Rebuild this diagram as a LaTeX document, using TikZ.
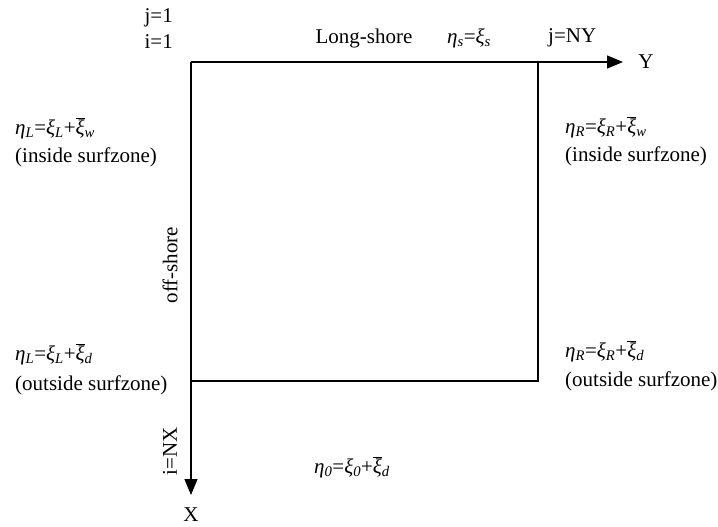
\documentclass[tikz,border=0pt]{standalone}
\usepackage{fontspec}
\setmainfont{Liberation Serif}
\usetikzlibrary{arrows.meta}
\newcommand{\iv}[1]{{\itshape #1}}
\newcommand{\sbv}[1]{\textsubscript{\itshape #1}}
\newcommand{\xibar}{$\overline{\hbox{\itshape ξ}}$}
\begin{document}
\begin{tikzpicture}[x=1pt,y=-1pt,
  lbl/.style={inner sep=0pt,font=\fontsize{21}{25}\selectfont},
  ln/.style={line width=1.2pt},
  axis/.style={line width=1.2pt,-{Triangle[length=16pt,width=13pt]}}]
\useasboundingbox (0,0) rectangle (718,527);
\coordinate (O) at (191,62);
\coordinate (TR) at (538,62);
\coordinate (BR) at (538,381);
\coordinate (BL) at (191,381);
\coordinate (Yend) at (623,62);
\coordinate (Xend) at (191,495);
\draw[ln] (O) -- (TR) -- (BR) -- (BL);
\draw[axis] (O) -- (Yend);
\draw[axis] (O) -- (Xend);
\node[lbl,anchor=east] (j1) at (173,18) {j=1};
\node[lbl,anchor=east] (i1) at (173,42) {i=1};
\node[lbl] (ls) at (364,38) {Long-shore};
\node[lbl] (es) at (469,38) {\iv{η}\sbv{s}=\iv{ξ}\sbv{s}};
\node[lbl,anchor=west] (jny) at (548,38) {j=NY};
\node[lbl] (Y) at (646,62) {Y};
\node[lbl] (X) at (191,515) {X};
\node[lbl,anchor=west] (eLw) at (15,128) {\iv{η}\sbv{L}=\iv{ξ}\sbv{L}+\xibar\sbv{w}};
\node[lbl,anchor=west] (tLw) at (15,157) {(inside surfzone)};
\node[lbl,anchor=west] (eRw) at (565,127) {\iv{η}\sbv{R}=\iv{ξ}\sbv{R}+\xibar\sbv{w}};
\node[lbl,anchor=west] (tRw) at (565,156) {(inside surfzone)};
\node[lbl,anchor=west] (eLd) at (15,354) {\iv{η}\sbv{L}=\iv{ξ}\sbv{L}+\xibar\sbv{d}};
\node[lbl,anchor=west] (tLd) at (15,385) {(outside surfzone)};
\node[lbl,anchor=west] (eRd) at (565,351) {\iv{η}\sbv{R}=\iv{ξ}\sbv{R}+\xibar\sbv{d}};
\node[lbl,anchor=west] (tRd) at (565,381) {(outside surfzone)};
\node[lbl,rotate=90] (off) at (170,265) {off-shore};
\node[lbl,rotate=90] (inx) at (170,451) {i=NX};
\node[lbl] (e0) at (352,467) {\iv{η}\sbv{0}=\iv{ξ}\sbv{0}+\xibar\sbv{d}};
\end{tikzpicture}
\end{document}
